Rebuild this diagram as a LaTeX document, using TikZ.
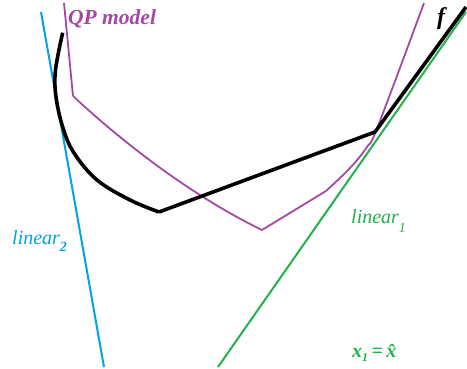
\documentclass[tikz,border=0pt]{standalone}
\usepackage{fontspec}
\setmainfont{Liberation Serif}
\newfontfamily\lblfont{Liberation Serif}
\definecolor{qp}{HTML}{A349A4}
\definecolor{lblue}{HTML}{00A2E8}
\definecolor{lgreen}{HTML}{22B14C}
\begin{document}
\begin{tikzpicture}[x=1pt,y=-1pt,
  fcurve/.style={line width=3.6pt,black,line join=round},
  qpcurve/.style={line width=1.8pt,qp,line join=round},
  lin/.style={line width=2pt},
  lbl/.style={inner sep=0pt,anchor=base west}]
\useasboundingbox (0,0) rectangle (467,369);
% linear 2 (blue)
\draw[lin,lblue] (41,12) -- (104,367);
% linear 1 (green)
\draw[lin,lgreen] (466,12) -- (218,367);
% QP model (purple)
\draw[qpcurve] (64,3) -- (73,96);
\draw[qpcurve] (73,96) .. controls (120,140) and (190,195) .. (262,230);
\draw[qpcurve] (262,230) -- (326,191);
\draw[qpcurve] plot[smooth,tension=0.6] coordinates {(326,191) (350,168) (367,147) (378,126) (424,3)};
% f (black)
\draw[fcurve] plot[smooth,tension=0.6] coordinates {(62.7,32.7) (55.5,70) (56,97) (63,128) (74,153) (97,180) (130,200) (159,212)};
\draw[fcurve] (159,212) -- (375,132) -- (466,7);
% labels
\node[lbl,text=qp,font=\lblfont\fontsize{21.5}{22}\selectfont\bfseries\itshape] (qplabel) at (68,25) {QP model};
\node[lbl,font=\lblfont\fontsize{24}{24}\selectfont\bfseries\itshape] (flabel) at (437,25) {f};
\node[lbl,text=lblue,font=\lblfont\fontsize{20}{20}\selectfont\itshape] (lin2) at (12,245) {linear\raisebox{-6pt}{\fontsize{14}{14}\selectfont\bfseries 2}};
\node[lbl,text=lgreen,font=\lblfont\fontsize{20}{20}\selectfont\itshape] (lin1) at (351,224) {linear\raisebox{-9pt}{\fontsize{14}{14}\selectfont 1}};
\node[lbl,text=lgreen,font=\lblfont\fontsize{20}{20}\selectfont\bfseries\itshape] (xeq) at (352,358) {x\raisebox{-3pt}{\fontsize{12}{12}\selectfont 1}\,=\,\^{x}};
\end{tikzpicture}
\end{document}
